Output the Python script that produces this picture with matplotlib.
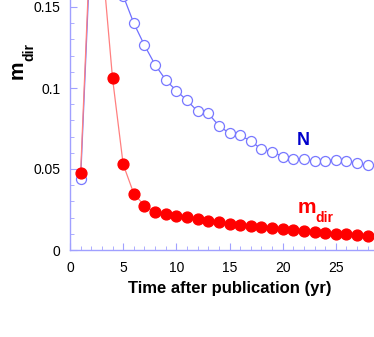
import matplotlib
matplotlib.use('Agg')
import matplotlib.pyplot as plt
from matplotlib.ticker import MultipleLocator

plt.rcParams['font.family'] = ['Liberation Sans', 'DejaVu Sans']

# years after publication
years = list(range(1, 29))

# m_dir (red, filled)
m_dir = [0.0477, 0.205, 0.181, 0.106, 0.0529, 0.0348, 0.0274, 0.0233, 0.0222, 0.0210,
         0.0202, 0.0190, 0.0179, 0.0171, 0.0162, 0.0156, 0.0148, 0.0142, 0.0136, 0.0128,
         0.0123, 0.0117, 0.0111, 0.0107, 0.0101, 0.0099, 0.0094, 0.0088]

# N (blue, open)
n_vals = [0.0438, 0.198, 0.215, 0.190, 0.157, 0.140, 0.1264, 0.1144, 0.1050, 0.0983,
          0.0924, 0.0856, 0.0844, 0.0767, 0.0720, 0.0708, 0.0673, 0.0622, 0.0608, 0.0576,
          0.0560, 0.0560, 0.0551, 0.0551, 0.0557, 0.0551, 0.0535, 0.0525]

x_ticks = [0, 5, 10, 15, 20, 25]
y_ticks = [0, 0.05, 0.1, 0.15]
y_tick_labels = ['0', '0.05', '0.1', '0.15']

axis_col = '#a0a0ff'

fig = plt.figure(figsize=(3.74, 3.37), dpi=100)
ax = fig.add_axes([70 / 374, 87 / 337, 319 / 374, 324 / 337])

ax.plot(years, n_vals, '-o', color='#7070ff', lw=0.9, ms=7.2,
        mfc='white', mec='#7878ff', mew=0.9, zorder=2)
ax.plot(years, m_dir, '-o', color='#ff8080', lw=0.9, ms=7.8,
        mfc='#ff0000', mec='#ff0000', zorder=3)

ax.set_xlim(0, 30)
ax.set_ylim(0, 0.2)
ax.set_xticks(x_ticks)
ax.xaxis.set_minor_locator(MultipleLocator(1))
ax.set_yticks(y_ticks)
ax.set_yticklabels(y_tick_labels)
ax.yaxis.set_minor_locator(MultipleLocator(0.01))

for s in ax.spines.values():
    s.set_color(axis_col)
    s.set_linewidth(1.0)
ax.tick_params(which='both', direction='in', color=axis_col, labelsize=10, labelcolor='black')
ax.tick_params(which='major', length=5)
ax.tick_params(which='minor', length=3)
ax.tick_params(axis='x', pad=8)
ax.tick_params(axis='y', pad=7)

ax.set_xlabel('Time after publication (yr)', fontsize=12, fontweight='bold', labelpad=4)

# y label: m with subscript dir, rotated
fig.text(17 / 374, 1 - 70 / 337, 'm', rotation=90, fontsize=15, fontweight='bold',
         ha='center', va='center')
fig.text(29 / 374, 1 - 52 / 337, 'dir', rotation=90, fontsize=10, fontweight='bold',
         ha='center', va='center')

# series labels
ax.text(21.9, 0.0679, 'N', color='#0000cc', fontsize=13, fontweight='bold',
        ha='center', va='center')
ax.text(22.3, 0.0262, 'm', color='#ff0000', fontsize=15, fontweight='bold',
        ha='center', va='center')
ax.text(23.9, 0.0196, 'dir', color='#ff0000', fontsize=10, fontweight='bold',
        ha='center', va='center')

fig.savefig('out.png', dpi=100)
